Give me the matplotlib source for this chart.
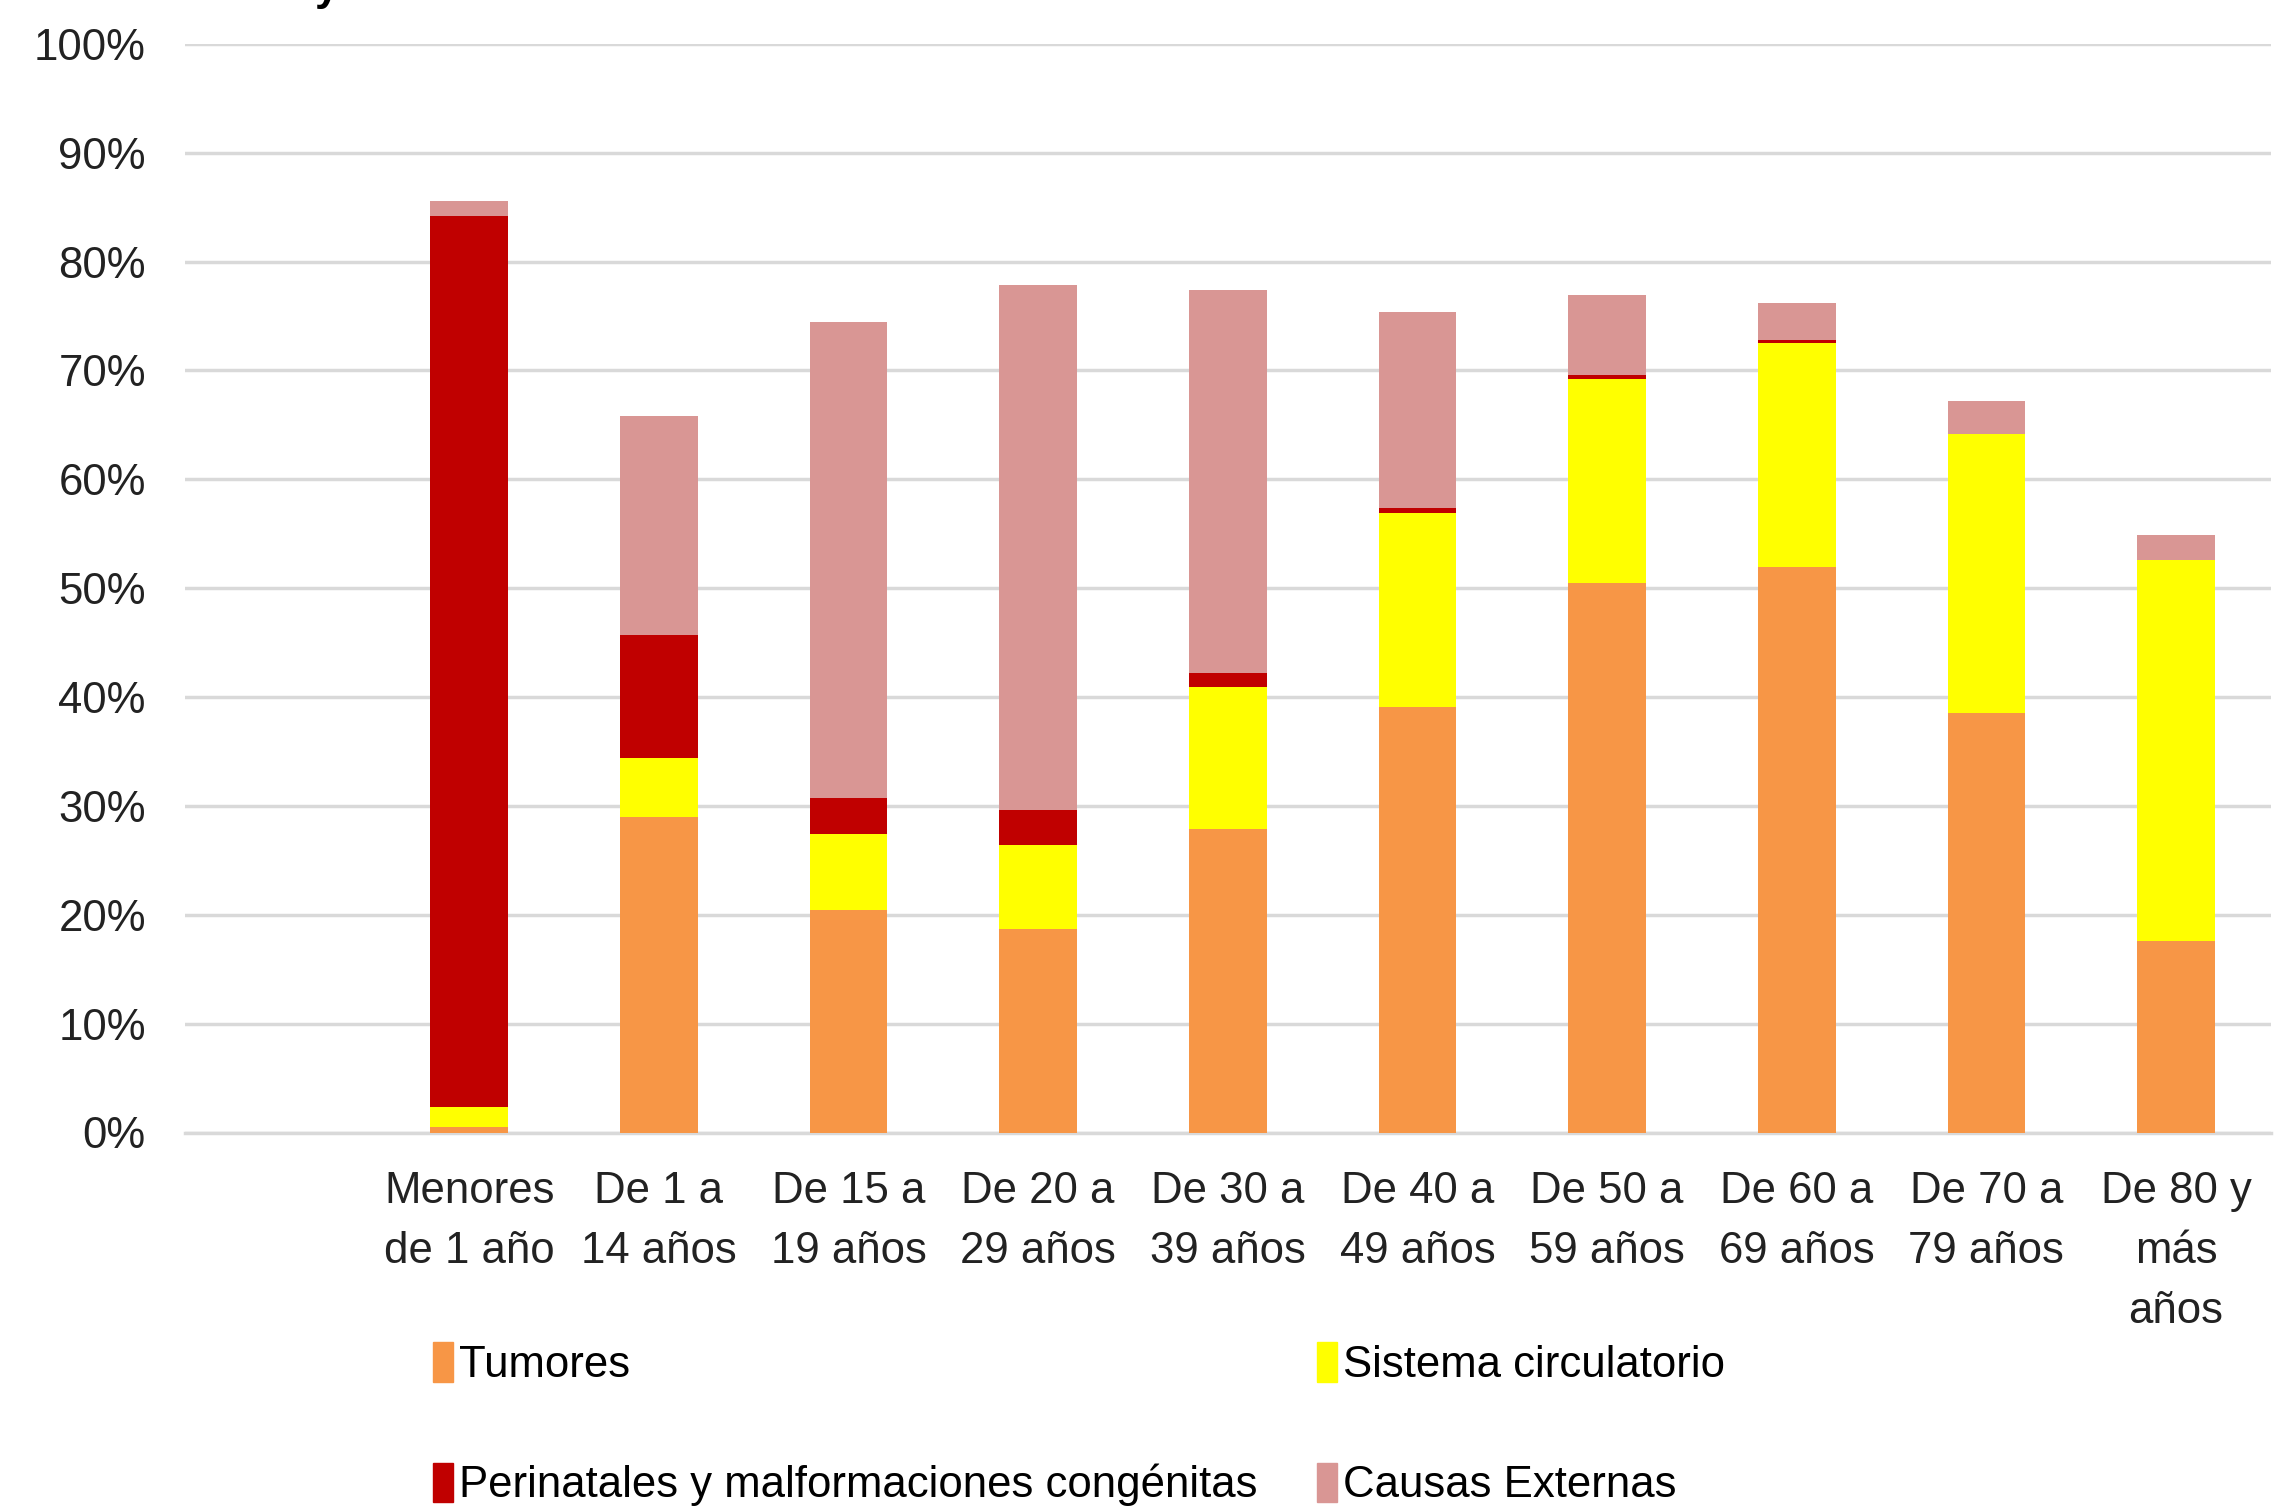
import matplotlib
matplotlib.use("Agg")
import matplotlib.pyplot as plt
from matplotlib import font_manager
from matplotlib.patches import Patch

# fuente estrecha si existe
nombres = {f.name for f in font_manager.fontManager.ttflist}
fuente = "Liberation Sans Narrow" if "Liberation Sans Narrow" in nombres else "Liberation Sans"
plt.rcParams['font.family'] = [fuente, 'DejaVu Sans']

# datos (% de defunciones por grupo de edad)
grupos = ["", "Menores\nde 1 año", "De 1 a\n14 años", "De 15 a\n19 años", "De 20 a\n29 años",
          "De 30 a\n39 años", "De 40 a\n49 años", "De 50 a\n59 años", "De 60 a\n69 años",
          "De 70 a\n79 años", "De 80 y\nmás\naños"]
tumores = [0, 0.5, 29.0, 20.4, 18.7, 27.9, 39.1, 50.5, 51.9, 38.5, 17.6]
circulatorio = [0, 1.8, 5.4, 7.0, 7.7, 13.0, 17.8, 18.7, 20.6, 25.7, 35.0]
perinatales = [0, 81.9, 11.3, 3.3, 3.2, 1.3, 0.5, 0.4, 0.3, 0.0, 0.0]
externas = [0, 1.4, 20.1, 43.7, 48.2, 35.2, 18.0, 7.3, 3.4, 3.0, 2.3]

colores = ['#F79646', '#FFFF00', '#C00000', '#D99694']
series = ['Tumores', 'Sistema circulatorio',
          'Perinatales y malformaciones congénitas', 'Causas Externas']

fs = 31.5
fig = plt.figure(figsize=(22.8, 15.1), dpi=100)
ax = fig.add_axes([0.081, 0.250, 0.915, 0.721])

x = list(range(len(grupos)))
base = [0] * len(grupos)
for vals, col in zip([tumores, circulatorio, perinatales, externas], colores):
    ax.bar(x, vals, bottom=base, width=0.41, color=col, zorder=3)
    base = [b + v for b, v in zip(base, vals)]

ax.set_xlim(-0.5, len(grupos) - 0.5)
ax.set_ylim(0, 100)
ax.set_yticks(range(0, 101, 10))
ax.set_yticklabels([f"{v}%" for v in range(0, 101, 10)])
ax.set_xticks(x)
ax.set_xticklabels(grupos, linespacing=1.58)
ax.grid(axis='y', color='#D9D9D9', linewidth=2.5, zorder=0)
for s in ['top', 'right', 'left']:
    ax.spines[s].set_visible(False)
ax.spines['bottom'].set_color('#D9D9D9')
ax.spines['bottom'].set_linewidth(2.5)
ax.tick_params(axis='y', length=0, pad=28, labelsize=fs, labelcolor='#222222')
ax.tick_params(axis='x', length=0, pad=28, labelsize=fs, labelcolor='#222222')

# pedazo del título cortado arriba (también cortado en el original)
fig.text(0.138, 1.0, 'y', fontsize=fs, fontweight='bold', va='baseline', ha='left')

manejadores = [Patch(color=c, label=s) for c, s in zip(colores, series)]
orden = [0, 2, 1, 3]
ax.legend([manejadores[i] for i in orden], [series[i] for i in orden],
          ncol=2, loc='upper left', bbox_to_anchor=(0.190, 0.111),
          bbox_transform=fig.transFigure, frameon=False, fontsize=fs,
          handlelength=0.45, handleheight=1.0, handletextpad=0.15,
          labelspacing=1.75, columnspacing=1.35, borderpad=0, borderaxespad=0)

plt.savefig("out.png", dpi=100)
